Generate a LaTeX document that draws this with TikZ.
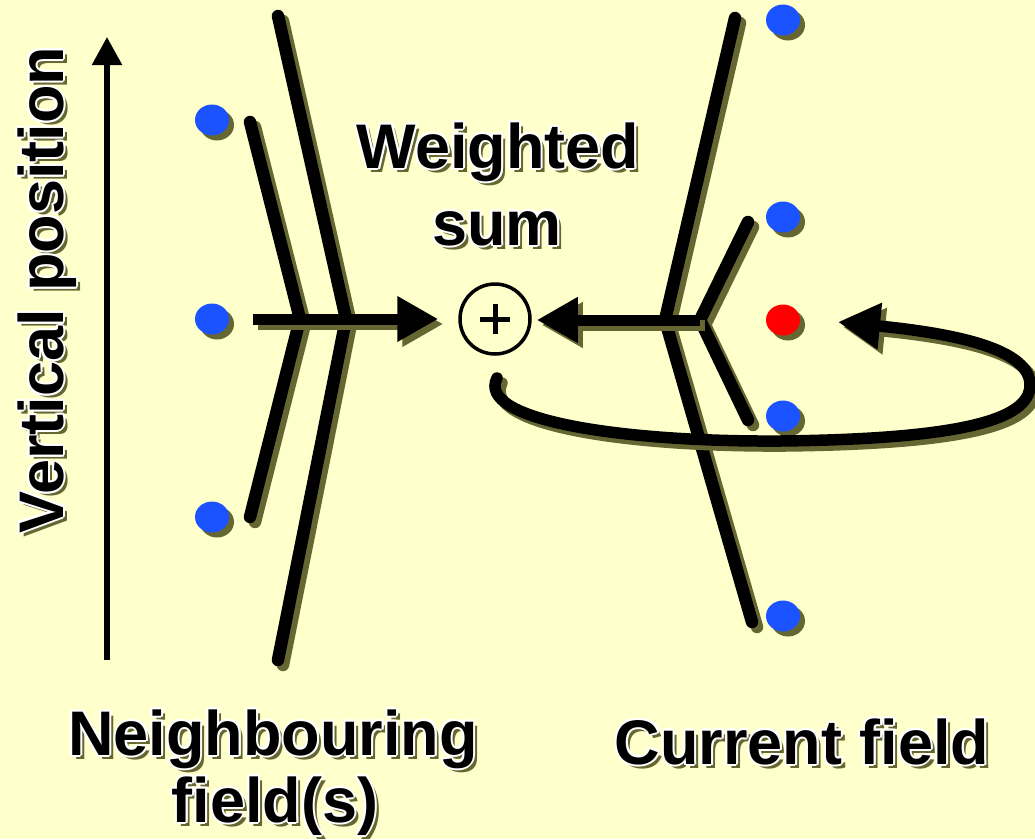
\documentclass[tikz,border=0pt]{standalone}
\usepackage{fontspec}
\setmainfont{Liberation Sans}
\usetikzlibrary{arrows.meta,shapes.geometric}
\definecolor{bgc}{HTML}{FFFFCC}
\definecolor{shad}{HTML}{666633}
\definecolor{dotblue}{HTML}{1A53FF}
\newcommand\fancytxt[4][]{%
  \node[lbl,#1,text=shad] (#2s) at ([shift={(4,4)}]#3) {#4};
  \foreach \dx/\dy [count=\k] in {2/0,-2/0,0/2,0/-2,1.5/1.5,-1.5/1.5,1.5/-1.5,-1.5/-1.5}
    \node[lbl,#1,text=white] (#2w\k) at ([shift={(\dx,\dy)}]#3) {#4};
  \node[lbl,#1] (#2) at (#3) {#4};
}
\newcommand\shpath[2]{%
  \begin{scope}[transform canvas={xshift=5pt,yshift=-5pt}]
    \draw[#1, draw=shad] #2;
  \end{scope}
  \draw[#1] #2;
}
\begin{document}
\begin{tikzpicture}[x=1pt,y=-1pt,
  fld/.style={line width=12.5pt, line cap=round, line join=miter},
  arr/.style={line width=11pt, line cap=butt, -{Triangle[length=41pt,width=43pt]}},
  dotsh/.style={ellipse, minimum width=34pt, minimum height=31pt, inner sep=0pt, fill=shad},
  dot/.style={ellipse, minimum width=34pt, minimum height=31pt, inner sep=0pt, fill=#1},
  lbl/.style={font=\fontsize{63}{75}\selectfont\bfseries, anchor=base, inner sep=0pt},
]
\useasboundingbox (0,0) rectangle (1035,839);
\fill[bgc] (0,0) rectangle (1035,839);

% vertical axis
\coordinate (axb) at (107,660);
\coordinate (axt) at (107,37);
\draw[line width=5.5pt, -{Triangle[length=28pt,width=29pt]}] (axb) -- (axt);

% left dots
\foreach \n/\y in {l1/120,l2/319,l3/517}{
  \node[dotsh] (\n s) at (217,\y+5) {};
  \node[dot=dotblue] (\n) at (212,\y) {};
}
% right dots
\foreach \n/\y in {r1/20,r2/217,r4/416,r5/616}{
  \node[dotsh] (\n s) at (788,\y+5) {};
  \node[dot=dotblue] (\n) at (783,\y) {};
}
\node[dotsh] (r3s) at (788,325) {};
\node[dot=red] (r3) at (783,320) {};

% left field
\coordinate (lo1) at (278,16);
\coordinate (lov) at (346,319);
\coordinate (lo2) at (278,660);
\coordinate (li1) at (250,122);
\coordinate (liv) at (300,319);
\coordinate (li2) at (250,517);
\coordinate (la0) at (253,319);
\shpath{fld}{(lo1) -- (lov) -- (lo2)}
\shpath{fld}{(li1) -- (liv) -- (li2)}

% sum node
\node[circle, draw, line width=3.5pt, minimum size=70pt, inner sep=0pt] (sum) at (495,319) {};
\draw[line width=5pt] ([xshift=-15pt]sum.center) -- ([xshift=15pt]sum.center);
\draw[line width=5pt] ([yshift=-15pt]sum.center) -- ([yshift=15pt]sum.center);

\shpath{arr}{(la0) -- ([xshift=-20pt]sum.west)}

% right field
\coordinate (ro1) at (735,18);
\coordinate (rov) at (665,320);
\coordinate (ro2) at (752,622);
\coordinate (ri1) at (748,222);
\coordinate (riv) at (700,320);
\coordinate (ri2) at (748,420);
\shpath{fld}{(ro1) -- (rov) -- (ro2)}
\shpath{fld}{(ri1) -- (riv) -- (ri2)}
\shpath{arr}{(riv) -- ([xshift=5pt]sum.east |- riv)}

% loop
\coordinate (lps) at (497,378);
\coordinate (lpt) at (838,322);
\shpath{line width=11.5pt, line cap=round, -{Triangle[length=42pt,width=44pt]}}{(lps) .. controls (476,420) and (620,442) .. (780,441)
  .. controls (960,439) and (1030,420) .. (1030,385)
  .. controls (1030,350) and (960,334) .. (lpt)}

% texts
\fancytxt{tw}{498,168}{Weighted}
\fancytxt{ts}{497,245}{sum}
\fancytxt[rotate=90]{tv}{63,290}{Vertical position}
\fancytxt{tn}{273,755}{Neighbouring}
\fancytxt{tf}{275,822}{field(s)}
\fancytxt{tc}{802,764}{Current field}
\end{tikzpicture}
\end{document}
